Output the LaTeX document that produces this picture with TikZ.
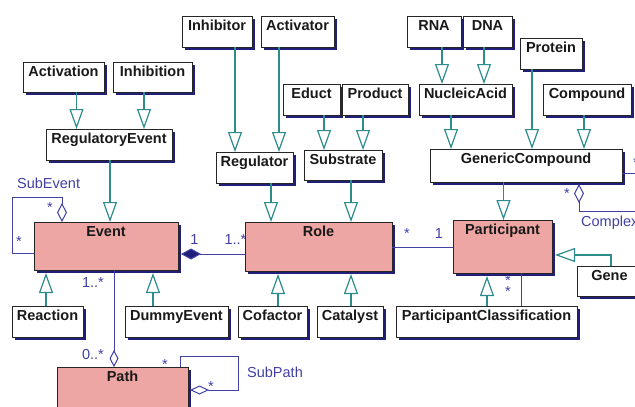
\documentclass[tikz,border=0pt]{standalone}
\usepackage{fontspec}
\setmainfont{Liberation Sans}
\usetikzlibrary{arrows.meta,shadows}
\definecolor{shc}{RGB}{32,32,120}
\definecolor{asc}{RGB}{64,64,165}
\definecolor{genc}{RGB}{45,140,140}
\definecolor{pinkc}{RGB}{237,166,163}
\tikzset{
  box/.style={draw=black!85, line width=0.9pt, fill=white, inner sep=0pt, outer sep=0pt,
    general shadow={shadow xshift=3pt, shadow yshift=-3pt, fill=shc}},
  pbox/.style={box, fill=pinkc},
  btext/.style={font=\bfseries\fontsize{14.5}{16}\selectfont, inner sep=0pt, anchor=base, text=black!90},
  ml/.style={font=\fontsize{14.5}{16}\selectfont, inner sep=0pt, anchor=base, text=asc},
  gen/.style={draw=genc, line width=1.2pt, -{Triangle[fill=white, length=20pt, width=14pt]}},
  asl/.style={draw=asc, line width=1pt},
}
\newcommand\ubox[7][box]{%
  \pgfmathsetmacro\uW{#5-#3}\pgfmathsetmacro\uH{#6-#4}%
  \pgfmathsetmacro\uX{(#3+#5)/2}\pgfmathsetmacro\uY{(#4+#6)/2}%
  \node[#1, minimum width=\uW pt, minimum height=\uH pt] (#2) at (\uX,\uY) {};%
  \node[btext] (#2t) at ([yshift=-14pt]#2.north) {#7};%
}
\begin{document}
\begin{tikzpicture}[x=1pt,y=-1pt]
\clip (0,0) rectangle (635,407);
\fill[white] (0,0) rectangle (635,407);
% boxes
\ubox{act}{23}{62}{104}{92}{Activation}
\ubox{inh}{113}{62}{192}{92}{Inhibition}
\ubox{rege}{46}{129}{172}{160}{RegulatoryEvent}
\ubox{inhr}{182}{16}{252}{47}{Inhibitor}
\ubox{actr}{261}{16}{334}{47}{Activator}
\ubox{educt}{283}{84}{340}{115}{Educt}
\ubox{prod}{342}{84}{408}{115}{Product}
\ubox{regr}{216}{152}{293}{183}{Regulator}
\ubox{subs}{304}{150}{382}{180}{Substrate}
\ubox{rna}{407}{16}{461}{47}{RNA}
\ubox{dna}{463}{16}{512}{47}{DNA}
\ubox{prot}{520}{38}{582}{69}{Protein}
\ubox{nuc}{419}{84}{512}{115}{NucleicAcid}
\ubox{comp}{543}{84}{631}{115}{Compound}
\ubox{genc}{430}{149}{622}{182}{GenericCompound}
\ubox[pbox]{event}{34}{222}{178}{270}{Event}
\ubox{reac}{12}{306}{83}{337}{Reaction}
\ubox{dummy}{125}{306}{228}{337}{DummyEvent}
\ubox[pbox]{path}{57}{367}{188}{425}{Path}
\ubox[pbox]{role}{245}{222}{392}{271}{Role}
\ubox{cof}{238}{306}{307}{337}{Cofactor}
\ubox{cat}{317}{306}{383}{337}{Catalyst}
\ubox[pbox]{part}{453}{220}{552}{273}{Participant}
\ubox{gene}{577}{266}{642}{296}{Gene}
\ubox{pc}{396}{306}{577}{337}{ParticipantClassification}
% generalizations (downward)
\draw[gen] (act.south -| 76.5,0) -- (rege.north -| 76.5,0);
\draw[gen] (inh.south -| 144,0) -- (rege.north -| 144,0);
\draw[gen] (rege.south -| 110,0) -- (event.north -| 110,0);
\draw[gen] (inhr.south -| 235,0) -- (regr.north -| 235,0);
\draw[gen] (actr.south -| 279,0) -- (regr.north -| 279,0);
\draw[gen] (educt.south -| 324,0) -- (subs.north -| 324,0);
\draw[gen] (prod.south -| 363,0) -- (subs.north -| 363,0);
\draw[gen] (rna.south -| 442,0) -- (nuc.north -| 442,0);
\draw[gen] (dna.south -| 484,0) -- (nuc.north -| 484,0);
\draw[gen] (nuc.south -| 451,0) -- (genc.north -| 451,0);
\draw[gen] (prot.south -| 532,0) -- (genc.north -| 532,0);
\draw[gen] (comp.south -| 584,0) -- (genc.north -| 584,0);
\draw[gen] (genc.south -| 503.5,0) -- (part.north -| 503.5,0);
\draw[gen] (regr.south -| 271,0) -- (role.north -| 271,0);
\draw[gen] (subs.south -| 351,0) -- (role.north -| 351,0);
% generalizations (upward)
\draw[gen, shorten >=3pt] (cof.north -| 278,0) -- (role.south -| 278,0);
\draw[gen, shorten >=3pt] (cat.north -| 351,0) -- (role.south -| 351,0);
\draw[gen, shorten >=3pt] (reac.north -| 46,0) -- (event.south -| 46,0);
\draw[gen, shorten >=3pt] (dummy.north -| 153,0) -- (event.south -| 153,0);
\draw[gen, shorten >=3pt] (pc.north -| 487,0) -- (part.south -| 487,0);
\draw[gen, shorten >=3pt] (gene.north -| 611,0) |- (part.east |- 0,255);
% associations
\draw[asl, {Diamond[fill=shc, length=20pt, width=11pt]}-, shorten <=3pt] (event.east |- 0,254) -- (role.west |- 0,254);
\draw[asl] (role.east |- 0,247) -- (part.west |- 0,247);
\draw[asl, -{Diamond[fill=white, length=17pt, width=9pt]}] (event.south -| 114,0) -- (path.north -| 114,0);
\draw[asl, -{Diamond[fill=white, length=19pt, width=10pt]}] (event.west |- 0,253) -| (12,197) -| (event.north -| 62,0);
\draw[asl, -{Diamond[fill=white, length=19pt, width=9pt]}, shorten >=2pt] (path.north -| 180,0) |- (238,356) |- (path.east |- 0,390);
\draw[asl] (part.south -| 521,0) -- (pc.north -| 521,0);
\coordinate (cxend) at (650,211);
\coordinate (cyend) at (650,173);
\draw[asl, {Diamond[fill=white, length=19pt, width=10pt]}-, shorten <=2pt] (genc.south -| 579,0) |- (cxend);
\draw[asl] (genc.east |- 0,173) -- (cyend);
% labels
\node[ml, anchor=base west] (lsubevent) at (17,188) {SubEvent};
\node[ml, anchor=base west] (lsubpath) at (247,377) {SubPath};
\node[ml, anchor=base west] (lcomplex) at (581,226) {Complex};
\node[ml] (m1) at (194.5,244) {1};
\node[ml] (m2) at (235.5,244) {1..*};
\node[ml] (m3) at (407,238) {*};
\node[ml] (m4) at (439,238) {1};
\node[ml] (m5) at (93,287) {1..*};
\node[ml] (m6) at (93,359) {0..*};
\node[ml] (m7) at (50,212) {*};
\node[ml] (m8) at (19,246) {*};
\node[ml] (m9) at (165,369) {*};
\node[ml] (m10) at (211,391) {*};
\node[ml, align=center, font=\fontsize{14.5}{7.5}\selectfont] (m11) at (508,296) {*\\*};
\node[ml] (m13) at (567,198) {*};
\node[ml] (m14) at (636,167) {*};
\end{tikzpicture}
\end{document}
